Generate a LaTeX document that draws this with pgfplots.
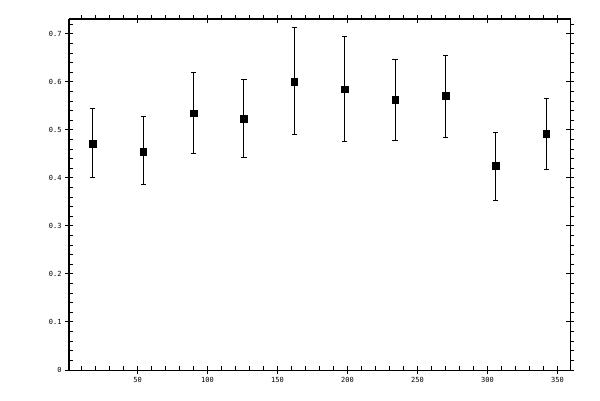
\documentclass[border=0pt]{standalone}
\usepackage{fontspec}
\usepackage{pgfplots}
\pgfplotsset{compat=1.18}
\newfontfamily\tickfont{DejaVu Sans Mono}

\begin{document}
\begin{tikzpicture}[x=1pt,y=1pt]
\useasboundingbox (-69,-30) rectangle (531,370);
\pgfplotsset{
  frame/.style={
    at={(0,0)}, anchor=south west, scale only axis,
    width=501pt, height=351pt,
    xmin=1, xmax=359, ymin=0, ymax=0.731,
    axis line style={line width=1pt},
    every tick/.style={line width=1pt, black},
    xtick={50,100,...,350},
    ytick={0,0.1,...,0.7},
  },
  minors/.style={
    xticklabels={}, yticklabels={},
    major tick length=0pt, minor tick length=4pt,
    minor xtick={10,20,...,350},
    minor ytick={0.02,0.04,...,0.73},
  },
}
% main axis: labels, crossing major ticks, data
\begin{axis}[frame,
    minor tick num=0,
    xtick pos=both, ytick pos=both,
    tick align=center, major tick length=8pt,
    tick label style={font=\tickfont\fontsize{7}{8}\selectfont},
    /pgf/number format/assume math mode=true,
    yticklabel style={/pgf/number format/fixed, /pgf/number format/precision=1},
  ]
\addplot[black, only marks, mark=square*, mark size=3.3pt,
    error bars/.cd, y dir=both, y explicit,
    error bar style={line width=1pt},
    error mark options={rotate=90, mark size=2.6pt, line width=1pt}]
  table[x=x, y=y, y error plus=ep, y error minus=em] {
x   y      ep      em
18  0.471  0.073   0.071
54  0.455  0.073   0.069
90  0.535  0.084   0.084
126 0.523  0.081   0.081
162 0.600  0.1125  0.110
198 0.585  0.109   0.110
234 0.5625 0.0835  0.0855
270 0.571  0.085   0.086
306 0.425  0.070   0.073
342 0.492  0.073   0.075
};
\end{axis}
% minor ticks inside on left and bottom
\begin{axis}[frame, minors,
    xtick pos=bottom, ytick pos=left,
    tick align=inside,
  ]
\end{axis}
% minor ticks outside on top and right
\begin{axis}[frame, minors,
    xtick pos=top, ytick pos=right,
    tick align=outside,
  ]
\end{axis}
\end{tikzpicture}
\end{document}
